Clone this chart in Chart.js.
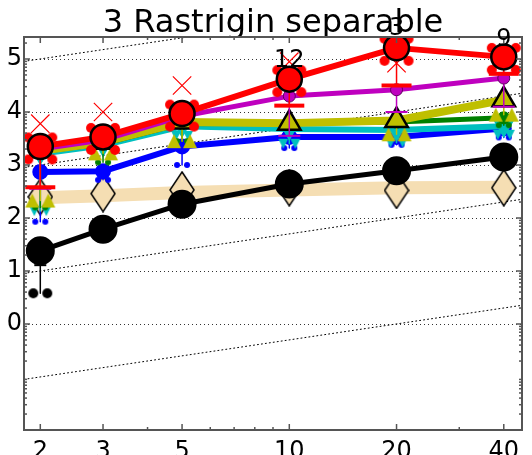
<!DOCTYPE html>
<html>
<head>
<meta charset="utf-8">
<script src="https://cdn.jsdelivr.net/npm/chart.js@4/dist/chart.umd.min.js"></script>
<style>
html, body { margin: 0; padding: 0; background: #fff; }
#wrap { width: 532px; height: 455px; }
</style>
</head>
<body>
<div id="wrap"><canvas id="chart" width="532" height="455"></canvas></div>
<script>
// data (log10 of value / dimension)
const titleText = '3 Rastrigin separable';
const dims = [2, 3, 5, 10, 20, 40];
const xTicks = [2, 3, 5, 10, 20, 40];
const yTicks = [0, 1, 2, 3, 4, 5];

const redVals     = [3.35, 3.53, 3.97, 4.62, 5.21, 5.04];
const magentaVals = [3.30, 3.47, 3.92, 4.30, 4.42, 4.64];
const yellowVals  = [3.27, 3.43, 3.81, 3.79, 3.84, 4.23];
const greenVals   = [3.25, 3.40, 3.78, 3.79, 3.81, 3.89];
const cyanVals    = [3.21, 3.37, 3.73, 3.68, 3.66, 3.73];
const blueVals    = [2.87, 2.88, 3.35, 3.53, 3.53, 3.69];
const blackVals   = [1.38, 1.79, 2.26, 2.64, 2.89, 3.15];
const wheatVals   = [2.38, 2.42, 2.48, 2.53, 2.57, 2.58];
const diamondVals = [2.40, 2.46, 2.53, 2.57, 2.52, 2.57];
const redCross    = [3.78, 4.00, 4.50, 4.95, 4.92, null];

// lower ends of the spread whiskers
const redLow     = [2.58, null, null, 4.12, 4.50, 4.72];
const magentaLow = [2.55, null, null, 3.55, 4.00, 4.10];
const yellowLow  = [2.33, 3.22, 3.45, null, 3.58, 3.95];
const greenLow   = [2.20, 3.05, 3.45, null, null, 3.75];
const cyanLow    = [2.13, null, 3.55, 3.40, 3.42, 3.57];
const blueLow    = [1.93, 2.72, 3.00, 3.32, 3.38, 3.52];
const blackCap   = [1.11, null, null, null, null, null];
const blackLow   = [0.58, null, null, null, null, null];

// success counts written above some dimensions
const noteDims = [10, 20, 40];
const noteText = ['12', '3', '9'];
const noteVals = [4.96, 5.57, 5.36];

// slope-one guide lines
const guideOffsets = [-1.3, 0.7, 2.7, 4.7];

const xMin = 1.8, xMax = 45, yMin = -2, yMax = 5.415;

function pts(vals) {
    return dims.map((d, i) => ({ x: d, y: vals[i] }));
}

function whisker(tops, lows) {
    const out = [];
    dims.forEach((d, i) => {
        if (lows[i] == null) return;
        out.push({ x: d, y: tops[i] }, { x: d, y: lows[i] }, { x: d, y: null });
    });
    return out;
}

function makeFlower(color) {
    const c = document.createElement('canvas');
    c.width = 40; c.height = 44;
    const g = c.getContext('2d');
    g.fillStyle = color;
    [[8, 13], [32, 13], [8, 35], [32, 35]].forEach(p => {
        g.beginPath(); g.arc(p[0], p[1], 5, 0, Math.PI * 2); g.fill();
    });
    return c;
}

function makePair(color, r) {
    const c = document.createElement('canvas');
    c.width = 4 * r + 6; c.height = 2 * r + 2;
    const g = c.getContext('2d');
    g.fillStyle = color;
    [r + 1, 3 * r + 5].forEach(x => {
        g.beginPath(); g.arc(x, r + 1, r, 0, Math.PI * 2); g.fill();
    });
    return c;
}

function makeTriPair(color, r, down) {
    const c = document.createElement('canvas');
    c.width = 4 * r + 4; c.height = 2 * r + 2;
    const g = c.getContext('2d');
    g.fillStyle = color;
    [r + 1, 3 * r + 3].forEach(x => {
        g.beginPath();
        if (down) { g.moveTo(x - r, 1); g.lineTo(x + r, 1); g.lineTo(x, 2 * r + 1); }
        else { g.moveTo(x - r, 2 * r + 1); g.lineTo(x + r, 2 * r + 1); g.lineTo(x, 1); }
        g.closePath(); g.fill();
    });
    return c;
}

function makeDiamond() {
    const c = document.createElement('canvas');
    c.width = 26; c.height = 38;
    const g = c.getContext('2d');
    g.beginPath();
    g.moveTo(13, 1); g.lineTo(25, 19); g.lineTo(13, 37); g.lineTo(1, 19); g.closePath();
    g.fillStyle = '#f5deb3'; g.fill();
    g.lineWidth = 1.5; g.strokeStyle = '#000'; g.stroke();
    return c;
}

const guideData = guideOffsets.map(c => ({
    type: 'line',
    data: [{ x: xMin, y: Math.log10(xMin) + c }, { x: xMax, y: Math.log10(xMax) + c }],
    borderColor: '#000', borderWidth: 1, borderDash: [1, 3],
    pointRadius: 0, order: 30, clip: 0
}));

function series(vals, color, width, extra) {
    return Object.assign({
        type: 'line', data: pts(vals), borderColor: color, borderWidth: width,
        backgroundColor: color, pointBackgroundColor: color, pointBorderColor: color,
        clip: 0
    }, extra);
}

function whiskerSet(tops, lows, color, style, radius, order, capWidth) {
    return {
        type: 'line', data: whisker(tops, lows), borderColor: color, borderWidth: 1.5,
        spanGaps: false, pointStyle: style, pointBorderColor: color, pointBorderWidth: capWidth || 2,
        pointBackgroundColor: color,
        pointRadius: ctx => (ctx.dataIndex % 3 === 1 ? radius : 0),
        order: order, clip: 0
    };
}

const decor = {
    id: 'decor',
    beforeDraw(chart) {
        const { ctx, chartArea: a } = chart;
        const ys = chart.scales.y;
        ctx.save();
        ctx.fillStyle = '#fff';
        ctx.fillRect(0, 0, chart.width, chart.height);
        ctx.fillStyle = '#000';
        ctx.font = '32px "DejaVu Sans"';
        ctx.textAlign = 'center';
        ctx.textBaseline = 'alphabetic';
        ctx.fillText(titleText, (a.left + a.right) / 2, 32);
        ctx.fillStyle = '#fff';
        ctx.fillRect(a.left, a.top, a.right - a.left, a.bottom - a.top);
        ctx.strokeStyle = '#333';
        ctx.lineWidth = 1;
        ctx.setLineDash([1, 3]);
        yTicks.forEach(v => {
            const py = Math.round(ys.getPixelForValue(v)) + 0.5;
            ctx.beginPath(); ctx.moveTo(a.left, py); ctx.lineTo(a.right, py); ctx.stroke();
        });
        ctx.restore();
    },
    afterDatasetsDraw(chart) {
        const { ctx, chartArea: a } = chart;
        const xs = chart.scales.x, ys = chart.scales.y;
        ctx.save();
        // frame and inward ticks
        ctx.strokeStyle = '#555';
        ctx.lineWidth = 1.5;
        const tick = (x1, y1, x2, y2) => { ctx.beginPath(); ctx.moveTo(x1, y1); ctx.lineTo(x2, y2); ctx.stroke(); };
        const xMinor = [4, 6, 7, 8, 9, 30];
        xTicks.forEach(v => { const p = xs.getPixelForValue(v); tick(p, a.bottom, p, a.bottom - 6); tick(p, a.top, p, a.top + 6); });
        xMinor.forEach(v => { const p = xs.getPixelForValue(v); tick(p, a.bottom, p, a.bottom - 3); tick(p, a.top, p, a.top + 3); });
        yTicks.forEach(v => { const p = ys.getPixelForValue(v); tick(a.left, p, a.left + 6, p); tick(a.right, p, a.right - 6, p); });
        for (let n = -2; n <= 5; n++) {
            for (let k = 2; k <= 9; k++) {
                const v = n + Math.log10(k);
                if (v <= yMin || v >= yMax) continue;
                const p = ys.getPixelForValue(v);
                tick(a.left, p, a.left + 3, p); tick(a.right, p, a.right - 3, p);
            }
        }
        ctx.lineWidth = 2;
        ctx.strokeRect(a.left, a.top, a.right - a.left, a.bottom - a.top);
        // success counts
        ctx.fillStyle = '#000';
        ctx.font = '24px "DejaVu Sans"';
        ctx.textAlign = 'center';
        ctx.textBaseline = 'middle';
        noteDims.forEach((d, i) => {
            ctx.fillText(noteText[i], xs.getPixelForValue(d), ys.getPixelForValue(noteVals[i]));
        });
        ctx.restore();
    }
};

const datasets = [
    series(redVals, '#ff0000', 6, { pointRadius: 12.5, pointBorderColor: '#000', pointBorderWidth: 2.5, order: 1 }),
    { type: 'line', data: pts(redCross), showLine: false, pointStyle: 'crossRot', pointRadius: 13,
      pointBorderColor: '#ff0000', pointBorderWidth: 1.2, order: 2, clip: 0 },
    { type: 'line', data: pts(redVals), showLine: false, pointStyle: makeFlower('#ff0000'), order: 3, clip: 0 },
    whiskerSet(redVals, redLow, '#ff0000', 'line', 15, 4, 4),
    series(magentaVals, '#bf00bf', 5, { pointRadius: 6, pointBorderColor: '#600060', pointBorderWidth: 1, order: 5 }),
    whiskerSet(magentaVals, magentaLow, '#bf00bf', 'line', 11, 6),
    series(yellowVals, '#bfbf00', 8, { pointStyle: 'triangle', pointRadius: 13, pointBorderColor: '#000', pointBorderWidth: 2.5, order: 7 }),
    whiskerSet(yellowVals, yellowLow, '#bfbf00', makeTriPair('#bfbf00', 7, false), 5, 7.5),
    series(greenVals, '#008000', 5, { pointRadius: 4, order: 8 }),
    whiskerSet(greenVals, greenLow, '#008000', makePair('#008000', 3), 5, 8.5),
    series(cyanVals, '#00bfbf', 6, { pointStyle: 'triangle', rotation: 180, pointRadius: 6, order: 9 }),
    whiskerSet(cyanVals, cyanLow, '#00bfbf', makeTriPair('#00bfbf', 5, true), 5, 9.5),
    series(blueVals, '#0000ff', 6, { pointRadius: 5, order: 10 }),
    whiskerSet(blueVals, blueLow, '#0000ff', makePair('#0000ff', 3), 5, 11),
    series(blackVals, '#000000', 5, { pointRadius: 12, order: 12 }),
    whiskerSet(blackVals, blackCap, '#000000', 'line', 6, 12.5),
    whiskerSet(blackVals, blackLow, '#000000', makePair('#000000', 5), 5, 13),
    { type: 'line', data: pts(diamondVals), showLine: false, pointStyle: makeDiamond(), order: 14, clip: 0 },
    series(wheatVals, '#f5deb3', 13, { pointRadius: 0, order: 15 })
].concat(guideData);

new Chart(document.getElementById('chart'), {
    type: 'line',
    data: { datasets: datasets },
    options: {
        responsive: false,
        devicePixelRatio: 1,
        animation: false,
        layout: { autoPadding: false, padding: { top: 37, right: 10, left: 0, bottom: 0 } },
        plugins: { legend: { display: false }, tooltip: { enabled: false }, title: { display: false } },
        elements: { line: { tension: 0, borderCapStyle: 'round', borderJoinStyle: 'round' } },
        scales: {
            x: {
                type: 'logarithmic', min: xMin, max: xMax,
                afterBuildTicks: s => { s.ticks = xTicks.map(v => ({ value: v })); },
                afterFit: s => { s.height = 25; s.paddingLeft = 0; s.paddingRight = 0; },
                grid: { display: false, drawTicks: false },
                border: { display: false },
                ticks: { autoSkip: false, maxRotation: 0, padding: 7, color: '#000',
                         font: { family: 'DejaVu Sans', size: 24 }, callback: v => String(v) }
            },
            y: {
                type: 'linear', min: yMin, max: yMax,
                afterBuildTicks: s => { s.ticks = yTicks.map(v => ({ value: v })); },
                afterFit: s => { s.width = 24; s.paddingTop = 0; s.paddingBottom = 0; },
                grid: { display: false, drawTicks: false },
                border: { display: false },
                ticks: { padding: 2, color: '#000', font: { family: 'DejaVu Sans', size: 24 },
                         callback: v => String(v) }
            }
        }
    },
    plugins: [decor]
});
</script>
</body>
</html>
